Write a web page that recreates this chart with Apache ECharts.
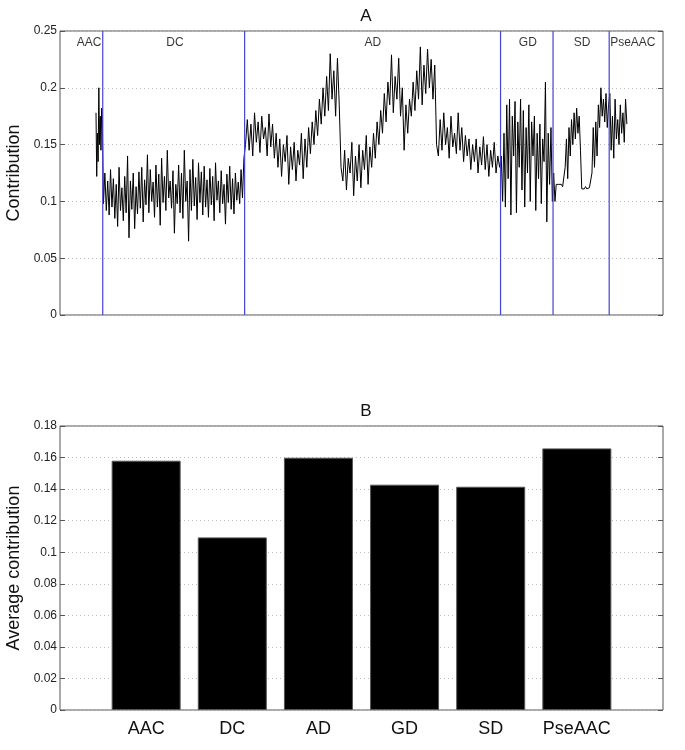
<!DOCTYPE html>
<html>
<head>
<meta charset="utf-8">
<script src="https://cdn.jsdelivr.net/npm/echarts@6/dist/echarts.min.js"></script>
<style>html,body{margin:0;padding:0;background:#fff}#c{width:685px;height:750px}</style>
</head>
<body>
<div id="c"></div>
<script>
// ---- Panel A: per-feature contribution ----
var segNames = ['AAC', 'DC', 'AD', 'GD', 'SD', 'PseAAC'];
var segBounds = [0.5, 20.5, 420.5, 1142, 1290, 1448.3, 1500]; // feature index boundaries

var aacVals = [0.178, 0.122, 0.16, 0.135, 0.2, 0.15, 0.175, 0.145, 0.182, 0.17];
var dcVals = [
  0.098, 0.125, 0.092, 0.118, 0.088, 0.128, 0.095, 0.12, 0.085, 0.115, 0.078, 0.13, 0.092, 0.112, 0.083, 0.122, 0.09, 0.14, 0.068, 0.118, 0.093, 0.125, 0.076, 0.113, 0.089,
  0.126, 0.094, 0.13, 0.082, 0.119, 0.097, 0.141, 0.09, 0.128, 0.1, 0.117, 0.086, 0.132, 0.095, 0.124, 0.079, 0.138, 0.099, 0.122, 0.092, 0.145, 0.103, 0.118, 0.094, 0.127,
  0.072, 0.115, 0.098, 0.132, 0.09, 0.125, 0.085, 0.145, 0.1, 0.118, 0.065, 0.128, 0.092, 0.137, 0.096, 0.121, 0.084, 0.134, 0.099, 0.126, 0.088, 0.131, 0.095, 0.119, 0.086,
  0.129, 0.097, 0.122, 0.083, 0.134, 0.101, 0.118, 0.09, 0.127, 0.098, 0.115, 0.08, 0.124, 0.099, 0.131, 0.093, 0.12, 0.089, 0.125, 0.101, 0.117, 0.098, 0.128, 0.103, 0.138
];
var adVals = [
  0.15, 0.172, 0.145, 0.168, 0.14, 0.178, 0.152, 0.17, 0.143, 0.175, 0.155, 0.165,
  0.14, 0.177, 0.148, 0.168, 0.138, 0.16, 0.13, 0.155, 0.122, 0.15, 0.135,
  0.158, 0.115, 0.148, 0.128, 0.152, 0.118, 0.145, 0.132, 0.16, 0.12, 0.155,
  0.13, 0.165, 0.142, 0.17, 0.15, 0.18, 0.158, 0.19, 0.168, 0.2, 0.175,
  0.21, 0.18, 0.23, 0.19, 0.215, 0.175, 0.226, 0.185,
  0.13, 0.118, 0.145, 0.11, 0.138, 0.125, 0.152, 0.105, 0.14, 0.118, 0.15,
  0.112, 0.145, 0.128, 0.158, 0.115, 0.148, 0.13, 0.16, 0.138, 0.17, 0.15,
  0.18, 0.16, 0.195, 0.17, 0.205, 0.185, 0.229, 0.178, 0.21, 0.19, 0.226,
  0.175, 0.2, 0.145, 0.185, 0.16, 0.19, 0.175, 0.205, 0.18, 0.215, 0.19,
  0.236, 0.185, 0.22, 0.195, 0.234, 0.2, 0.225, 0.19, 0.22,
  0.15, 0.14, 0.172, 0.145, 0.178, 0.15, 0.165, 0.138, 0.175, 0.148, 0.16,
  0.142, 0.178, 0.145, 0.165, 0.135, 0.158, 0.14, 0.155, 0.128, 0.15, 0.135,
  0.155, 0.125, 0.148, 0.132, 0.157, 0.128, 0.15, 0.122, 0.145, 0.13, 0.152,
  0.125, 0.14, 0.13
];
var gdVals = [
  0.14, 0.1, 0.16, 0.095, 0.185, 0.12, 0.19, 0.088, 0.175, 0.14, 0.188, 0.09, 0.17, 0.13, 0.19, 0.11,
  0.18, 0.095, 0.165, 0.125, 0.185, 0.1, 0.17, 0.14, 0.175, 0.092, 0.16, 0.12, 0.168, 0.098, 0.155,
  0.135, 0.205, 0.082, 0.16, 0.115, 0.165, 0.1
];
var sdVals = [
  0.125, 0.1, 0.115, 0.114, 0.115, 0.114, 0.115, 0.113, 0.114,
  0.13, 0.155, 0.12, 0.165, 0.14,
  0.172, 0.15, 0.178, 0.155, 0.182, 0.16, 0.175, 0.145,
  0.111, 0.112, 0.111, 0.113, 0.111, 0.112, 0.112, 0.113,
  0.125, 0.165, 0.13, 0.17, 0.14,
  0.185, 0.165, 0.2, 0.175, 0.19, 0.17, 0.195, 0.165, 0.185
];
var pseVals = [0.195, 0.145, 0.175, 0.138, 0.19, 0.155, 0.172, 0.15, 0.185, 0.16, 0.178, 0.152, 0.19, 0.168];

var yTicksA = [0, 0.05, 0.1, 0.15, 0.2, 0.25];

// ---- Panel B: average contribution ----
var barCats = ['AAC', 'DC', 'AD', 'GD', 'SD', 'PseAAC'];
var barVals = [0.158, 0.1094, 0.1599, 0.1428, 0.1415, 0.1658];
var yTicksB = [0, 0.02, 0.04, 0.06, 0.08, 0.1, 0.12, 0.14, 0.16, 0.18];

// build line data: each segment's values spread evenly over its feature range
var segVals = [aacVals, dcVals, adVals, gdVals, sdVals, pseVals];
var lineData = [];
segVals.forEach(function (vals, s) {
  var a = segBounds[s], b = segBounds[s + 1], n = vals.length;
  for (var i = 0; i < n; i++) {
    lineData.push([a + (i + 0.5) * (b - a) / n, vals[i]]);
  }
});
var labelPos = [-18, 224, 782, 1219, 1372, 1515];

var font = 'Liberation Sans, Arial, Helvetica, sans-serif';
var axisCol = '#555';
function yAxisCommon(max, interval, gi, pos, showLabel) {
  return {
    type: 'value', gridIndex: gi, position: pos, min: 0, max: max, interval: interval,
    axisLine: { show: false, onZero: false },
    axisTick: { show: true, inside: true, length: 5, lineStyle: { color: axisCol } },
    axisLabel: { show: showLabel, color: '#222', fontSize: 12, fontFamily: font, margin: 3,
      formatter: function (v) { return String(+v.toFixed(2)); } },
    splitLine: { show: showLabel, lineStyle: { color: '#bbb', type: [1, 3], width: 1 } }
  };
}

var boundarySeries = segBounds.slice(1, 6).map(function (b) {
  return {
    type: 'line', xAxisIndex: 0, yAxisIndex: 0, data: [[b, 0], [b, 0.25]], symbol: 'none', silent: true,
    lineStyle: { color: '#4444d4', width: 1.2 }, z: 4
  };
});

var chart = echarts.init(document.getElementById('c'), null, { renderer: 'canvas' });
chart.setOption({
  animation: false,
  backgroundColor: '#fff',
  title: [
    { text: 'A', left: 361, top: 3, textAlign: 'center', textStyle: { fontSize: 17, fontWeight: 'normal', color: '#111', fontFamily: font } },
    { text: 'B', left: 361, top: 398, textAlign: 'center', textStyle: { fontSize: 17, fontWeight: 'normal', color: '#111', fontFamily: font } }
  ],
  grid: [
    { left: 60, top: 31, width: 603, height: 284, show: true, borderColor: axisCol, borderWidth: 1, backgroundColor: '#fff', containLabel: false, outerBoundsMode: 'none' },
    { left: 60, top: 426, width: 603, height: 284, show: true, borderColor: axisCol, borderWidth: 1, backgroundColor: '#fff', containLabel: false, outerBoundsMode: 'none' }
  ],
  xAxis: [
    { type: 'value', gridIndex: 0, min: -100, max: 1600, axisLine: { show: false, onZero: false }, axisTick: { show: false }, axisLabel: { show: false }, splitLine: { show: false } },
    { type: 'value', gridIndex: 1, min: 0, max: 7, interval: 1, axisLine: { show: false, onZero: false }, axisTick: { show: false },
      splitLine: { show: false },
      axisLabel: { color: '#111', fontSize: 18, fontFamily: font, margin: 10,
        formatter: function (v) { return barCats[v - 1] || ''; } } }
  ],
  yAxis: [
    Object.assign(yAxisCommon(0.25, 0.05, 0, 'left', true), { name: 'Contribution', nameLocation: 'middle', nameGap: 33,
      nameTextStyle: { fontSize: 18, color: '#111', fontFamily: font } }),
    yAxisCommon(0.25, 0.05, 0, 'right', false),
    Object.assign(yAxisCommon(0.18, 0.02, 1, 'left', true), { name: 'Average contribution', nameLocation: 'middle', nameGap: 33,
      nameTextStyle: { fontSize: 18, color: '#111', fontFamily: font } }),
    yAxisCommon(0.18, 0.02, 1, 'right', false)
  ],
  series: [
    {
      type: 'line', xAxisIndex: 0, yAxisIndex: 0, data: lineData, showSymbol: false, symbol: 'none',
      lineStyle: { color: '#000', width: 1 }, z: 3
    }
  ].concat(boundarySeries).concat([
    {
      type: 'scatter', xAxisIndex: 0, yAxisIndex: 0, symbolSize: 0, silent: true,
      data: labelPos.map(function (x, i) { return { value: [x, 0.2394], name: segNames[i] }; }),
      label: { show: true, position: 'inside', formatter: '{b}', color: '#000', fontSize: 12, fontFamily: font }
    },
    {
      type: 'bar', xAxisIndex: 1, yAxisIndex: 2, barWidth: 69,
      data: barVals.map(function (v, i) { return [i + 1, v]; }),
      itemStyle: { color: '#000', borderColor: '#555', borderWidth: 1 }
    }
  ])
});
</script>
</body>
</html>
